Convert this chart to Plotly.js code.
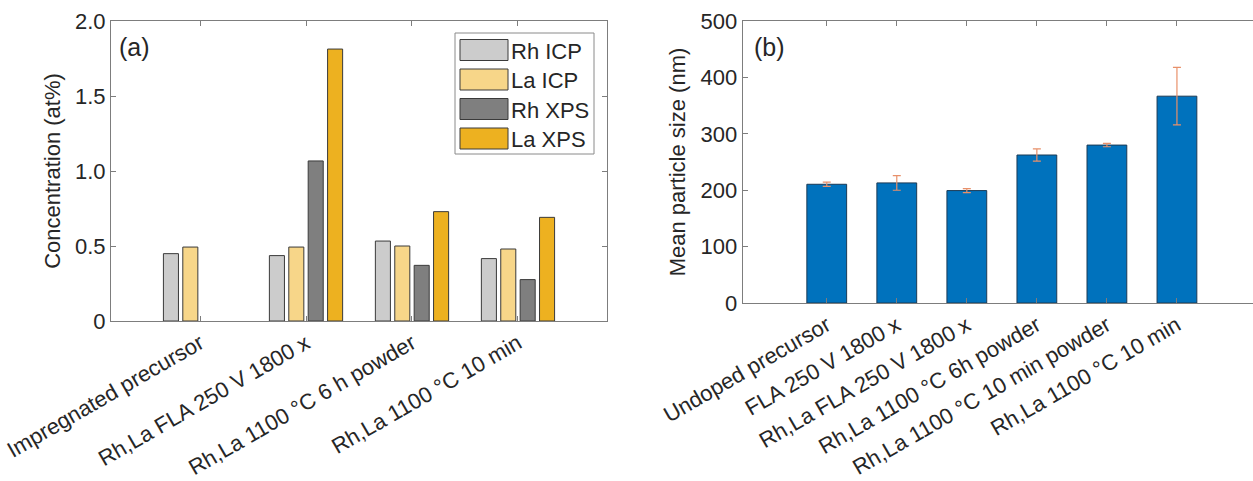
<!DOCTYPE html>
<html>
<head>
<meta charset="utf-8">
<script src="https://cdn.plot.ly/plotly-3.0.1.min.js"></script>
<style>html,body{margin:0;padding:0;background:#fff;}#chart{width:1253px;height:481px;}</style>
</head>
<body>
<div id="chart"></div>
<script>
// Panel (a) data
const catsA = ["Impregnated precursor", "Rh,La FLA 250 V 1800 x", "Rh,La 1100 °C 6 h powder", "Rh,La 1100 °C 10 min"];
const rhICP = [0.449, 0.436, 0.533, 0.416];
const laICP = [0.493, 0.493, 0.500, 0.480];
const rhXPS = [null, 1.067, 0.371, 0.276];
const laXPS = [null, 1.813, 0.729, 0.691];
const seriesNamesA = ["Rh ICP", "La ICP", "Rh XPS", "La XPS"];
const yTicksA = [0, 0.5, 1.0, 1.5, 2.0];
const yTickTextA = ["0", "0.5", "1.0", "1.5", "2.0"];

// Panel (b) data
const catsB = ["Undoped precursor", "FLA 250 V 1800 x", "Rh,La FLA 250 V 1800 x", "Rh,La 1100 °C 6h powder", "Rh,La 1100 °C 10 min powder", "Rh,La 1100 °C 10 min"];
const sizeB = [210.5, 212.9, 199.3, 262.4, 280.0, 366.7];
const errB = [3.8, 13.0, 3.5, 11.0, 3.0, 51.0];
const yTicksB = [0, 100, 200, 300, 400, 500];

const W = 1253, H = 481;
const FONT = "Liberation Sans, Arial, Helvetica, sans-serif";
const TXT = "#262626";
const AX = "#7d7d7d";
const FS = 22;
const colorsA = ["#cccccc", "#f7d689", "#7f7f7f", "#edb120"];
const valsA = [rhICP, laICP, rhXPS, laXPS];

const px = v => v / W;
const py = v => 1 - v / H;

const traces = [];
valsA.forEach((vals, i) => {
  traces.push({
    type: "bar", x: catsA, y: vals, name: seriesNamesA[i],
    xaxis: "x", yaxis: "y", showlegend: false,
    marker: {color: colorsA[i], line: {color: "#3a3a3a", width: 1}},
    hoverinfo: "x+y"
  });
});
traces.push({
  type: "bar", x: catsB, y: sizeB, name: "Mean particle size",
  xaxis: "x2", yaxis: "y2", showlegend: false,
  marker: {color: "#0072bd", line: {color: "#1b3a55", width: 1}},
  error_y: {type: "data", array: errB, visible: true, color: "#e8906a", thickness: 1.2, width: 4}
});

// custom legend for panel (a)
const shapes = [];
const annotations = [];
const legTop = 33, legBot = 154, legL = 455, legR = 594;
shapes.push({type: "rect", xref: "paper", yref: "paper", x0: px(legL), x1: px(legR), y0: py(legBot), y1: py(legTop),
  line: {color: "#8a8a8a", width: 1}, fillcolor: "#ffffff", layer: "above"});
const legY = [50, 79.5, 109, 138.5];
seriesNamesA.forEach((n, i) => {
  shapes.push({type: "rect", xref: "paper", yref: "paper", x0: px(460), x1: px(508), y0: py(legY[i] + 10.5), y1: py(legY[i] - 10.5),
    line: {color: "#3a3a3a", width: 1}, fillcolor: colorsA[i], layer: "above"});
  annotations.push({xref: "paper", yref: "paper", x: px(509), y: py(legY[i] + 1), text: n, showarrow: false,
    xanchor: "left", yanchor: "middle", font: {family: FONT, size: FS, color: TXT}});
});
annotations.push({xref: "paper", yref: "paper", x: px(117), y: py(47), text: "(a)", showarrow: false,
  xanchor: "left", yanchor: "middle", font: {family: FONT, size: 25, color: TXT}});
annotations.push({xref: "paper", yref: "paper", x: px(752), y: py(47), text: "(b)", showarrow: false,
  xanchor: "left", yanchor: "middle", font: {family: FONT, size: 25, color: TXT}});

const common = {
  showline: true, linecolor: AX, linewidth: 1, ticks: "inside", ticklen: 5, tickcolor: AX,
  showgrid: false, zeroline: false, tickfont: {family: FONT, size: FS, color: TXT}, automargin: false
};

const layout = {
  width: W, height: H, margin: {l: 0, r: 0, t: 0, b: 0},
  paper_bgcolor: "#fff", plot_bgcolor: "#fff",
  barmode: "group", bargap: 0.268, bargroupgap: 0.224,
  showlegend: false,
  xaxis: Object.assign({}, common, {domain: [px(111), px(607)], anchor: "y", type: "category",
    range: [-0.84, 3.84], tickangle: -30, mirror: "ticks"}),
  yaxis: Object.assign({}, common, {domain: [py(321), py(21)], anchor: "x", range: [0, 2.0],
    tickvals: yTicksA, ticktext: yTickTextA, mirror: "ticks",
    title: {text: "Concentration (at%)", font: {family: FONT, size: FS, color: TXT}, standoff: 8}}),
  xaxis2: Object.assign({}, common, {domain: [px(742.7), 1], anchor: "y2", type: "category",
    range: [-1.2, 6.086], tickangle: -30, mirror: "ticks"}),
  yaxis2: Object.assign({}, common, {domain: [py(303), py(21)], anchor: "x2", range: [0, 500],
    tickvals: yTicksB, mirror: false,
    title: {text: "Mean particle size (nm)", font: {family: FONT, size: FS, color: TXT}, standoff: 8}}),
  shapes: shapes, annotations: annotations
};

Plotly.newPlot("chart", traces, layout, {displayModeBar: false, staticPlot: true});
</script>
</body>
</html>
